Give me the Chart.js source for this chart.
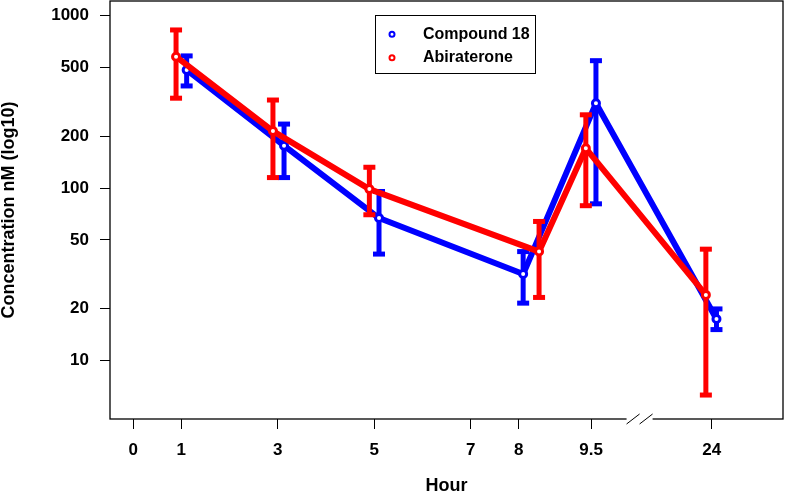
<!DOCTYPE html>
<html>
<head>
<meta charset="utf-8">
<script src="https://cdn.jsdelivr.net/npm/chart.js@4.4.1/dist/chart.umd.min.js"></script>
<style>
  body { margin: 0; background: #fff; }
  canvas { display: block; }
</style>
</head>
<body>
<canvas id="grafico" width="785" height="497"></canvas>
<script>
const hours = [1, 3, 5, 8, 9.5, 24];

// series are dodged sideways a little so the bars do not overlap
const compoundShift = [0.11, 0.13, 0.10, 0.09, 0.10, 0.10];
const compoundMean = [484, 176, 67, 31.7, 310, 17.4];
const compoundLow = [391, 115, 41.4, 21.5, 81, 15.1];
const compoundHigh = [584, 235, 95.5, 42.8, 548, 19.9];

const abiraShift = [-0.11, -0.10, -0.10, 0.42, -0.11, -0.12];
const abiraMean = [578, 214, 98.6, 42.8, 170, 24.0];
const abiraLow = [332, 115, 70, 23.2, 79, 6.3];
const abiraHigh = [826, 324, 132, 64, 266, 44.2];

const xTickHours = [0, 1, 3, 5, 7, 8, 9.5, 24];
const yTickValues = [10, 20, 50, 100, 200, 500, 1000];

const fonte = '"Liberation Sans", Arial, sans-serif';

// axis is broken after 9.5 h, 24 h is drawn at 12
function eixoX(h) {
  return h > 9.5 ? h - 12 : h;
}

function pontos(shift, mean) {
  return hours.map((h, i) => ({ x: eixoX(h) + shift[i], y: mean[i] }));
}

const errorBars = {
  id: "errorBars",
  beforeDatasetDraw(chart, args) {
    const ds = chart.data.datasets[args.index];
    const y = chart.scales.y;
    const ctx = chart.ctx;
    ctx.save();
    ctx.strokeStyle = ds.borderColor;
    ctx.fillStyle = ds.borderColor;
    ctx.lineWidth = 5;
    args.meta.data.forEach((p, i) => {
      const top = y.getPixelForValue(ds.high[i]);
      const bottom = y.getPixelForValue(ds.low[i]);
      ctx.beginPath();
      ctx.moveTo(p.x, top);
      ctx.lineTo(p.x, bottom);
      ctx.stroke();
      ctx.fillRect(p.x - 6, top - 2.5, 12, 5);
      ctx.fillRect(p.x - 6, bottom - 2.5, 12, 5);
    });
    ctx.restore();
  }
};

const moldura = {
  id: "moldura",
  afterDraw(chart) {
    const { ctx, chartArea: a, scales } = chart;
    ctx.save();
    ctx.strokeStyle = "#000";
    ctx.lineWidth = 1.3;
    ctx.strokeRect(a.left, a.top, a.right - a.left, a.bottom - a.top);

    // break marks on the x axis
    const b1 = scales.x.getPixelForValue(10.37);
    const b2 = scales.x.getPixelForValue(10.64);
    ctx.fillStyle = "#fff";
    ctx.fillRect(b1 - 6.5, a.bottom - 2, b2 - b1 + 13, 4);
    ctx.lineWidth = 1;
    [b1, b2].forEach(bx => {
      ctx.beginPath();
      ctx.moveTo(bx - 6.5, a.bottom + 5);
      ctx.lineTo(bx + 6.5, a.bottom - 5);
      ctx.stroke();
    });

    // legend
    ctx.strokeRect(375.5, 15.5, 160, 58);
    const itens = [chart.data.datasets[0], chart.data.datasets[1]];
    ctx.font = "bold 16px " + fonte;
    ctx.textBaseline = "middle";
    ctx.fillStyle = "#000";
    itens.forEach((ds, i) => {
      const ly = 34.3 + i * 23.4;
      ctx.beginPath();
      ctx.arc(392, ly, 2.5, 0, Math.PI * 2);
      ctx.strokeStyle = ds.borderColor;
      ctx.lineWidth = 2;
      ctx.stroke();
      ctx.fillText(ds.label, 423, ly);
    });
    ctx.restore();
  }
};

function serie(label, color, shift, mean, low, high, order) {
  return {
    label: label,
    data: pontos(shift, mean),
    low: low,
    high: high,
    order: order,
    borderColor: color,
    backgroundColor: color,
    borderWidth: 6,
    borderJoinStyle: "round",
    borderCapStyle: "round",
    tension: 0,
    pointRadius: 3.5,
    pointBorderWidth: 3,
    pointBackgroundColor: "#fff",
    pointBorderColor: color
  };
}

const tickFont = { family: fonte, size: 17, weight: "bold" };

new Chart(document.getElementById("grafico"), {
  type: "line",
  data: {
    datasets: [
      serie("Compound 18", "#0000ff", compoundShift, compoundMean, compoundLow, compoundHigh, 1),
      serie("Abiraterone", "#ff0000", abiraShift, abiraMean, abiraLow, abiraHigh, 0)
    ]
  },
  options: {
    responsive: false,
    animation: false,
    events: [],
    layout: { autoPadding: false, padding: { top: 1, right: 2, left: 0, bottom: 0 } },
    plugins: { legend: { display: false }, tooltip: { enabled: false } },
    scales: {
      x: {
        type: "linear",
        min: -0.48,
        max: 13.48,
        afterBuildTicks: s => { s.ticks = xTickHours.map(h => ({ value: eixoX(h) })); },
        afterFit: s => {
          s.height = 78;
          s.paddingLeft = 0;
          s.paddingRight = 0;
        },
        ticks: {
          callback: (v, i) => String(xTickHours[i]),
          autoSkip: false,
          maxRotation: 0,
          padding: 11,
          color: "#000",
          font: tickFont
        },
        grid: { drawOnChartArea: false, tickLength: 10, color: "#000" },
        border: { display: false },
        title: {
          display: true,
          text: "Hour",
          color: "#000",
          padding: 0,
          font: { family: fonte, size: 18, weight: "bold" }
        }
      },
      y: {
        type: "logarithmic",
        min: 4.575,
        max: 1216,
        afterBuildTicks: s => { s.ticks = yTickValues.map(v => ({ value: v })); },
        afterFit: s => {
          s.width = 110;
          s.paddingTop = 0;
          s.paddingBottom = 0;
        },
        ticks: {
          callback: v => String(v),
          autoSkip: false,
          padding: 11,
          color: "#000",
          font: tickFont
        },
        grid: { drawOnChartArea: false, tickLength: 10, color: "#000" },
        border: { display: false },
        title: {
          display: true,
          text: "Concentration nM (log10)",
          color: "#000",
          padding: 0,
          font: { family: fonte, size: 18, weight: "bold", lineHeight: 1 }
        }
      }
    }
  },
  plugins: [errorBars, moldura]
});
</script>
</body>
</html>
